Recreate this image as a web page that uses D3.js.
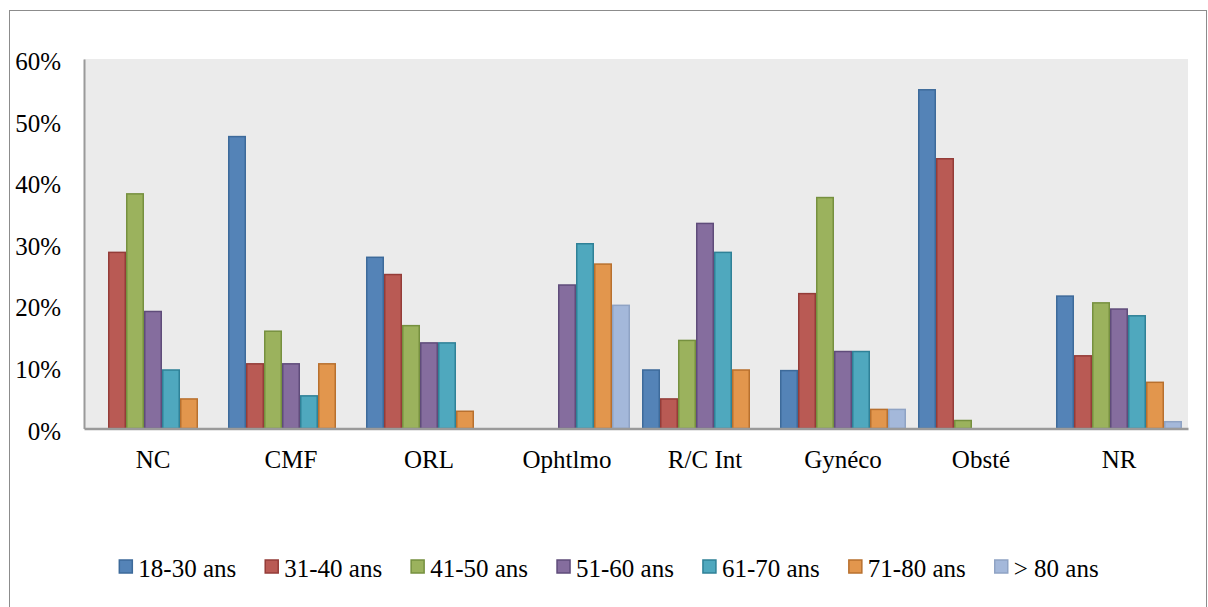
<!DOCTYPE html>
<html>
<head>
<meta charset="utf-8">
<script src="https://cdn.jsdelivr.net/npm/d3@7"></script>
<style>
  body { margin: 0; background: #fff; }
  svg text { font-family: "Liberation Serif", "DejaVu Serif", serif !important; fill: #000; }
</style>
</head>
<body>
<script>
// services (categories) and age groups (series), values in %
var categories = ["NC", "CMF", "ORL", "Ophtlmo", "R/C Int", "Gynéco", "Obsté", "NR"];
var series = ["18-30 ans", "31-40 ans", "41-50 ans", "51-60 ans", "61-70 ans", "71-80 ans", "> 80 ans"];

var s18_30 = [0,    47.4, 27.8, 0,    9.5,  9.4,  55.0, 21.5];
var s31_40 = [28.6, 10.5, 25.0, 0,    4.8,  21.9, 43.8, 11.8];
var s41_50 = [38.1, 15.8, 16.7, 0,    14.3, 37.5, 1.3,  20.4];
var s51_60 = [19.0, 10.5, 13.9, 23.3, 33.3, 12.5, 0,    19.4];
var s61_70 = [9.5,  5.3,  13.9, 30.0, 28.6, 12.5, 0,    18.3];
var s71_80 = [4.8,  10.5, 2.8,  26.7, 9.5,  3.1,  0,    7.5];
var s80p   = [0,    0,    0,    20.0, 0,    3.1,  0,    1.1];
var values = [s18_30, s31_40, s41_50, s51_60, s61_70, s71_80, s80p];

var yTicks = [0, 10, 20, 30, 40, 50, 60];

var fills   = ["#5483b7", "#b95a54", "#9bb25d", "#856d9e", "#4fa8be", "#e2964d", "#a4b8da"];
var strokes = ["#3d6a9a", "#943c38", "#76903f", "#5f4c7a", "#2f8197", "#b8702e", "#8fa3c4"];

var W = 1208, H = 607;
var plot = {left: 84, right: 1188, top: 59, bottom: 428.5};

var svg = d3.select("body").append("svg")
    .attr("width", W)
    .attr("height", H);

// chart frame
svg.append("rect")
    .attr("x", 9.5).attr("y", 10.5)
    .attr("width", 1197).attr("height", 620)
    .attr("fill", "none")
    .attr("stroke", "#8c8c8c")
    .attr("stroke-width", 1);

// plot background
svg.append("rect")
    .attr("x", plot.left).attr("y", plot.top)
    .attr("width", plot.right - plot.left)
    .attr("height", plot.bottom - plot.top)
    .attr("fill", "#ebebeb");

var x0 = d3.scaleBand()
    .domain(categories)
    .range([plot.left, plot.right])
    .paddingInner(0).paddingOuter(0);

var x1 = d3.scaleBand()
    .domain(series)
    .range([0, x0.bandwidth()])
    .paddingOuter(1 / 3);

var y = d3.scaleLinear()
    .domain([0, 60])
    .range([plot.bottom, plot.top]);

// bars
var groups = svg.selectAll("g.cat")
    .data(categories)
    .enter().append("g")
    .attr("class", "cat")
    .attr("transform", function(d) { return "translate(" + x0(d) + ",0)"; });

groups.selectAll("rect")
    .data(function(c, ci) {
        return series.map(function(s, si) { return {s: s, si: si, v: values[si][ci]}; })
            .filter(function(d) { return d.v > 0; });
    })
    .enter().append("rect")
    .attr("x", function(d) { return x1(d.s) + 0.75; })
    .attr("y", function(d) { return y(d.v); })
    .attr("width", x1.bandwidth() - 1.5)
    .attr("height", function(d) { return y(0) - y(d.v); })
    .attr("fill", function(d) { return fills[d.si]; })
    .attr("stroke", function(d) { return strokes[d.si]; })
    .attr("stroke-width", 1.5);

// y axis
var yAxis = svg.append("g")
    .attr("transform", "translate(" + plot.left + ",0)")
    .call(d3.axisLeft(y).tickValues(yTicks).tickSize(0).tickPadding(23)
        .tickFormat(function(d) { return d + "%"; }));
yAxis.select(".domain").attr("stroke", "#9a9a9a").attr("stroke-width", 2);
yAxis.selectAll("text")
    .attr("font-size", 25)
    .attr("dy", "0.42em");

// x axis
var xAxis = svg.append("g")
    .attr("transform", "translate(0," + plot.bottom + ")")
    .call(d3.axisBottom(x0).tickSize(0).tickPadding(22));
xAxis.select(".domain").attr("stroke", "#9a9a9a").attr("stroke-width", 2.5);
xAxis.selectAll("text")
    .attr("font-size", 25)
    .attr("dy", "0.71em");

// legend
var legend = svg.append("g");
var items = legend.selectAll("g")
    .data(series)
    .enter().append("g");
items.append("rect")
    .attr("width", 13).attr("height", 13)
    .attr("y", -7)
    .attr("fill", function(d, i) { return fills[i]; })
    .attr("stroke", function(d, i) { return strokes[i]; })
    .attr("stroke-width", 1.5);
items.append("text")
    .attr("x", 19)
    .attr("y", 10)
    .attr("font-size", 25)
    .text(function(d) { return d; });

var lx = 0;
items.each(function() {
    var w = this.getBBox().width;
    d3.select(this).attr("transform", "translate(" + lx + ",0)");
    lx += w + 29;
});
var total = lx - 29;
legend.attr("transform", "translate(" + (609 - total / 2) + ",567)");
</script>
</body>
</html>
